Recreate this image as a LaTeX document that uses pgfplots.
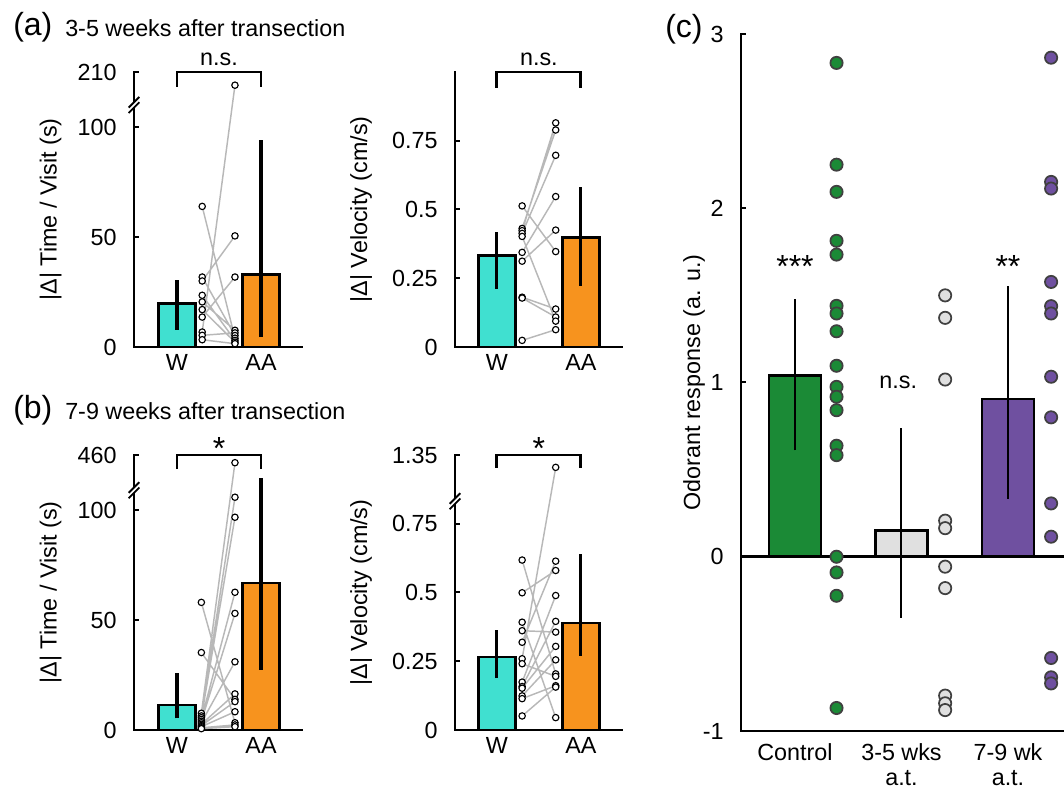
\documentclass[border=0pt]{standalone}
\usepackage{fontspec}
\setmainfont{Liberation Sans}
\usepackage{pgfplots}
\pgfplotsset{compat=1.18}

\definecolor{cturq}{HTML}{40E0D0}
\definecolor{corange}{HTML}{F7931E}
\definecolor{cgreen}{HTML}{1B8A36}
\definecolor{cpurple}{HTML}{6F50A0}
\definecolor{clgray}{HTML}{E0E0E0}
\definecolor{cline}{HTML}{B8B8B8}
\definecolor{cedge}{HTML}{404040}

\pgfplotsset{
  myaxis/.style={
    scale only axis, anchor=south west,
    axis x line*=bottom, axis y line*=left,
    axis line style={line width=2.2pt, line cap=rect},
    tick align=inside, major tick length=4pt,
    ytick style={line width=1.5pt, black},
    xtick style={draw=none},
    font=\fontsize{17.5}{19}\selectfont,
    yticklabel style={xshift=-9.5pt},
    xticklabel style={yshift=-2pt},
    clip=false,
    /pgf/number format/assume math mode=true,
  },
  barW/.style={ybar, bar width=0.44, fill=cturq, draw=black, line width=2pt},
  barAA/.style={ybar, bar width=0.44, fill=corange, draw=black, line width=2pt},
  errab/.style={black, line width=2.3pt},
  pairline/.style={cline, line width=1.1pt, unbounded coords=jump},
  smallpt/.style={only marks, mark=*, mark size=2.4pt, mark options={fill=white, draw=black, line width=0.85pt}},
  bigpt/.style={only marks, mark=*, mark size=4.6pt, mark options={fill=#1, draw=cedge, line width=1.3pt}},
}
\newcommand{\astfont}{\fontsize{24}{26}\selectfont}

\begin{document}
\begin{tikzpicture}[font=\fontsize{17.5}{19}\selectfont]
\useasboundingbox (0,0) rectangle (798pt,598.5pt);

% ---------- headers ----------
\node[anchor=base west, inner sep=0pt, font=\fontsize{24}{28}\selectfont] at (9.75pt,571.5pt) {(a)};
\node[anchor=base west, inner sep=0pt] at (48.75pt,570.75pt) {3-5 weeks after transection};
\node[anchor=base west, inner sep=0pt, font=\fontsize{24}{28}\selectfont] at (9.75pt,284.25pt) {(b)};
\node[anchor=base west, inner sep=0pt] at (48.75pt,283.5pt) {7-9 weeks after transection};
\node[anchor=base west, inner sep=0pt, font=\fontsize{24}{28}\selectfont] at (498.75pt,570pt) {(c)};

% ---------- y labels ----------
\node[rotate=90, anchor=base, inner sep=0pt] at (42.5pt,441.4pt) {|Δ| Time / Visit (s)};
\node[rotate=90, anchor=base, inner sep=0pt] at (275.25pt,441.4pt) {|Δ| Velocity (cm/s)};
\node[rotate=90, anchor=base, inner sep=0pt] at (42.5pt,154.1pt) {|Δ| Time / Visit (s)};
\node[rotate=90, anchor=base, inner sep=0pt] at (275.25pt,154.1pt) {|Δ| Velocity (cm/s)};
\node[rotate=90, anchor=base, inner sep=0pt] at (525pt,311.6pt) {Odorant response (a. u.)};

% ================= (a) left =================
\begin{axis}[myaxis, at={(100.5pt,338.25pt)}, width=126pt, height=206.25pt,
  xmin=0.488, xmax=2.488, ymin=0, ymax=125,
  xtick={1,2}, xticklabels={W,AA},
  ytick={0,50,100,125}, yticklabels={0,50,100,210}]
\addplot[barW] coordinates {(1,19.7)};
\addplot[barAA] coordinates {(2,33.0)};
\addplot[errab] coordinates {(1,7.9) (1,30.3)};
\addplot[errab] coordinates {(2,4.5) (2,93.9)};
\addplot[pairline] coordinates {
 (1.30,63.9) (1.69,4.0) (1.5,nan)
 (1.30,31.8) (1.69,5.2) (1.5,nan)
 (1.30,30.0) (1.69,50.5) (1.5,nan)
 (1.30,23.5) (1.69,3.0) (1.5,nan)
 (1.30,20.5) (1.69,7.6) (1.5,nan)
 (1.30,17.0) (1.69,2.2) (1.5,nan)
 (1.30,13.6) (1.69,31.8) (1.5,nan)
 (1.30,6.8) (1.69,119) (1.5,nan)
 (1.30,5.3) (1.69,6.4) (1.5,nan)
 (1.30,3.3) (1.69,1.5)};
\addplot[smallpt] coordinates {(1.30,63.9) (1.30,31.8) (1.30,30.0) (1.30,23.5) (1.30,20.5) (1.30,17.0) (1.30,13.6) (1.30,6.8) (1.30,5.3) (1.30,3.3)};
\addplot[smallpt] coordinates {(1.69,119) (1.69,50.5) (1.69,31.8) (1.69,7.6) (1.69,6.4) (1.69,5.2) (1.69,4.0) (1.69,3.0) (1.69,2.2) (1.69,1.5)};
\draw[line width=2.2pt] (axis cs:1,118.2) -- (axis cs:1,125) -- (axis cs:2,125) -- (axis cs:2,118.2);
\node[anchor=base, inner sep=0pt] at ([yshift=5pt]axis cs:1.5,125) {n.s.};
\fill[white] ([xshift=-2pt,yshift=-2pt]axis cs:0.488,110) rectangle ([xshift=2pt,yshift=2pt]axis cs:0.488,110);
\draw[line width=1.4pt] ([xshift=-4pt,yshift=-6pt]axis cs:0.488,110) -- ([xshift=4pt,yshift=2pt]axis cs:0.488,110);
\draw[line width=1.4pt] ([xshift=-4pt,yshift=-2pt]axis cs:0.488,110) -- ([xshift=4pt,yshift=6pt]axis cs:0.488,110);
\end{axis}

% ================= (a) right =================
\begin{axis}[myaxis, at={(341.25pt,338.25pt)}, width=125.25pt, height=206.25pt,
  xmin=0.5, xmax=2.49, ymin=0, ymax=1.0,
  xtick={1,2}, xticklabels={W,AA},
  ytick={0,0.25,0.5,0.75}, yticklabels={0,0.25,0.5,0.75}]
\addplot[barW] coordinates {(1,0.332)};
\addplot[barAA] coordinates {(2,0.399)};
\addplot[errab] coordinates {(1,0.211) (1,0.417)};
\addplot[errab] coordinates {(2,0.223) (2,0.580)};
\addplot[pairline] coordinates {
 (1.30,0.513) (1.70,0.347) (1.5,nan)
 (1.30,0.431) (1.70,0.789) (1.5,nan)
 (1.30,0.423) (1.70,0.815) (1.5,nan)
 (1.30,0.413) (1.70,0.697) (1.5,nan)
 (1.30,0.402) (1.70,0.094) (1.5,nan)
 (1.30,0.344) (1.70,0.547) (1.5,nan)
 (1.30,0.312) (1.70,0.425) (1.5,nan)
 (1.30,0.181) (1.70,0.138) (1.5,nan)
 (1.30,0.178) (1.70,0.109) (1.5,nan)
 (1.30,0.024) (1.70,0.063)};
\addplot[smallpt] coordinates {(1.30,0.513) (1.30,0.431) (1.30,0.423) (1.30,0.413) (1.30,0.402) (1.30,0.344) (1.30,0.312) (1.30,0.181) (1.30,0.178) (1.30,0.024)};
\addplot[smallpt] coordinates {(1.70,0.815) (1.70,0.789) (1.70,0.697) (1.70,0.547) (1.70,0.425) (1.70,0.347) (1.70,0.138) (1.70,0.109) (1.70,0.094) (1.70,0.063)};
\draw[line width=2.2pt] (axis cs:1,0.942) -- (axis cs:1,1.0) -- (axis cs:2,1.0) -- (axis cs:2,0.942);
\node[anchor=base, inner sep=0pt] at ([yshift=5pt]axis cs:1.5,1.0) {n.s.};
\end{axis}

% ================= (b) left =================
\begin{axis}[myaxis, at={(100.5pt,51pt)}, width=126pt, height=206.25pt,
  xmin=0.488, xmax=2.488, ymin=0, ymax=125,
  xtick={1,2}, xticklabels={W,AA},
  ytick={0,50,100,125}, yticklabels={0,50,100,460}]
\addplot[barW] coordinates {(1,11.4)};
\addplot[barAA] coordinates {(2,66.8)};
\addplot[errab] coordinates {(1,5.3) (1,25.8)};
\addplot[errab] coordinates {(2,27.3) (2,114.4)};
\addplot[pairline] coordinates {
 (1.29,58.0) (1.69,3.3) (1.5,nan)
 (1.29,35.2) (1.69,13.9) (1.5,nan)
 (1.29,7.6) (1.69,121.5) (1.5,nan)
 (1.29,6.4) (1.69,105.8) (1.5,nan)
 (1.29,5.6) (1.69,96.7) (1.5,nan)
 (1.29,4.8) (1.69,62.6) (1.5,nan)
 (1.29,4.0) (1.69,53.0) (1.5,nan)
 (1.29,3.3) (1.69,31.0) (1.5,nan)
 (1.29,2.6) (1.69,16.4) (1.5,nan)
 (1.29,2.0) (1.69,12.9) (1.5,nan)
 (1.29,1.5) (1.69,8.3) (1.5,nan)
 (1.29,1.0) (1.69,2.3) (1.5,nan)
 (1.29,0.6) (1.69,1.5)};
\addplot[smallpt] coordinates {(1.29,58.0) (1.29,35.2) (1.29,7.6) (1.29,6.4) (1.29,5.6) (1.29,4.8) (1.29,4.0) (1.29,3.3) (1.29,2.6) (1.29,2.0) (1.29,1.5) (1.29,1.0) (1.29,0.6)};
\addplot[smallpt] coordinates {(1.69,121.5) (1.69,105.8) (1.69,96.7) (1.69,62.6) (1.69,53.0) (1.69,31.0) (1.69,16.4) (1.69,13.9) (1.69,12.9) (1.69,8.3) (1.69,3.3) (1.69,2.3) (1.69,1.5)};
\draw[line width=2.2pt] (axis cs:1,118.6) -- (axis cs:1,125) -- (axis cs:2,125) -- (axis cs:2,118.6);
\node[anchor=base, inner sep=0pt, font=\astfont] at ([yshift=-3.5pt]axis cs:1.5,125) {*};
\fill[white] ([xshift=-2pt,yshift=-2pt]axis cs:0.488,109) rectangle ([xshift=2pt,yshift=2pt]axis cs:0.488,109);
\draw[line width=1.4pt] ([xshift=-4pt,yshift=-6pt]axis cs:0.488,109) -- ([xshift=4pt,yshift=2pt]axis cs:0.488,109);
\draw[line width=1.4pt] ([xshift=-4pt,yshift=-2pt]axis cs:0.488,109) -- ([xshift=4pt,yshift=6pt]axis cs:0.488,109);
\end{axis}

% ================= (b) right =================
\begin{axis}[myaxis, at={(341.25pt,51pt)}, width=125.25pt, height=206.25pt,
  xmin=0.5, xmax=2.49, ymin=0, ymax=1.0,
  xtick={1,2}, xticklabels={W,AA},
  ytick={0,0.25,0.5,0.75,1.0}, yticklabels={0,0.25,0.5,0.75,1.35}]
\addplot[barW] coordinates {(1,0.265)};
\addplot[barAA] coordinates {(2,0.389)};
\addplot[errab] coordinates {(1,0.189) (1,0.365)};
\addplot[errab] coordinates {(2,0.270) (2,0.639)};
\addplot[pairline] coordinates {
 (1.30,0.618) (1.70,0.204) (1.5,nan)
 (1.30,0.499) (1.70,0.580) (1.5,nan)
 (1.30,0.392) (1.70,0.045) (1.5,nan)
 (1.30,0.361) (1.70,0.356) (1.5,nan)
 (1.30,0.319) (1.70,0.614) (1.5,nan)
 (1.30,0.259) (1.70,0.955) (1.5,nan)
 (1.30,0.241) (1.70,0.195) (1.5,nan)
 (1.30,0.174) (1.70,0.489) (1.5,nan)
 (1.30,0.158) (1.70,0.395) (1.5,nan)
 (1.30,0.152) (1.70,0.304) (1.5,nan)
 (1.30,0.124) (1.70,0.255) (1.5,nan)
 (1.30,0.114) (1.70,0.161) (1.5,nan)
 (1.30,0.051) (1.70,0.156)};
\addplot[smallpt] coordinates {(1.30,0.618) (1.30,0.499) (1.30,0.392) (1.30,0.361) (1.30,0.319) (1.30,0.259) (1.30,0.241) (1.30,0.174) (1.30,0.158) (1.30,0.152) (1.30,0.124) (1.30,0.114) (1.30,0.051)};
\addplot[smallpt] coordinates {(1.70,0.955) (1.70,0.614) (1.70,0.580) (1.70,0.489) (1.70,0.395) (1.70,0.356) (1.70,0.304) (1.70,0.255) (1.70,0.204) (1.70,0.195) (1.70,0.161) (1.70,0.156) (1.70,0.045)};
\draw[line width=2.2pt] (axis cs:1,0.953) -- (axis cs:1,1.0) -- (axis cs:2,1.0) -- (axis cs:2,0.953);
\node[anchor=base, inner sep=0pt, font=\astfont] at ([yshift=-3.5pt]axis cs:1.5,1.0) {*};
\fill[white] ([xshift=-2pt,yshift=-2pt]axis cs:0.5,0.832) rectangle ([xshift=2pt,yshift=2pt]axis cs:0.5,0.832);
\draw[line width=1.4pt] ([xshift=-4pt,yshift=-6pt]axis cs:0.5,0.832) -- ([xshift=4pt,yshift=2pt]axis cs:0.5,0.832);
\draw[line width=1.4pt] ([xshift=-4pt,yshift=-2pt]axis cs:0.5,0.832) -- ([xshift=4pt,yshift=6pt]axis cs:0.5,0.832);
\end{axis}

% ================= (c) =================
\begin{axis}[myaxis, at={(555.75pt,50.25pt)}, width=242.25pt, height=522.75pt,
  axis line style={line width=2pt},
  xmin=-0.507, xmax=2.526, ymin=-1, ymax=3,
  xtick={0,1,2}, xticklabels={Control,{3-5 wks\\a.t.},{7-9 wk\\a.t.}},
  xticklabel style={align=center, yshift=-4pt},
  ytick={-1,0,1,2,3}, yticklabels={-1,0,1,2,3}]
\draw[line width=2pt] (axis cs:-0.507,0) -- (axis cs:2.526,0);
\addplot[ybar, bar width=0.49, fill=cgreen, draw=black, line width=2pt] coordinates {(0,1.04)};
\addplot[ybar, bar width=0.49, fill=clgray, draw=black, line width=2pt] coordinates {(1,0.149)};
\addplot[ybar, bar width=0.49, fill=cpurple, draw=black, line width=2pt] coordinates {(2,0.906)};
\addplot[black, line width=1.5pt] coordinates {(0,0.61) (0,1.48)};
\addplot[black, line width=1.5pt] coordinates {(1,-0.35) (1,0.74)};
\addplot[black, line width=1.5pt] coordinates {(2,0.333) (2,1.555)};
\addplot[bigpt=cgreen] coordinates {(0.39,2.834) (0.39,2.25) (0.39,2.094) (0.39,1.813) (0.39,1.734) (0.39,1.44) (0.39,1.396) (0.39,1.294) (0.39,1.096) (0.39,0.975) (0.39,0.918) (0.39,0.841) (0.39,0.637) (0.39,0.583) (0.39,0.0) (0.39,-0.09) (0.39,-0.224) (0.39,-0.868)};
\addplot[bigpt=clgray] coordinates {(1.41,1.50) (1.41,1.371) (1.41,1.017) (1.41,0.207) (1.41,0.164) (1.41,-0.057) (1.41,-0.18) (1.41,-0.797) (1.41,-0.841) (1.41,-0.88)};
\addplot[bigpt=cpurple] coordinates {(2.405,2.864) (2.405,2.151) (2.405,2.113) (2.405,1.577) (2.405,1.438) (2.405,1.396) (2.405,1.033) (2.405,0.80) (2.405,0.306) (2.405,0.115) (2.405,-0.581) (2.405,-0.692) (2.405,-0.727)};
\node[anchor=base, inner sep=0pt, font=\astfont] at (axis cs:0,1.60) {***};
\node[anchor=base, inner sep=0pt, font=\astfont] at (axis cs:2,1.60) {**};
\node[anchor=center, inner sep=0pt] at (axis cs:0.97,1.0) {n.s.};
\end{axis}
\end{tikzpicture}
\end{document}
